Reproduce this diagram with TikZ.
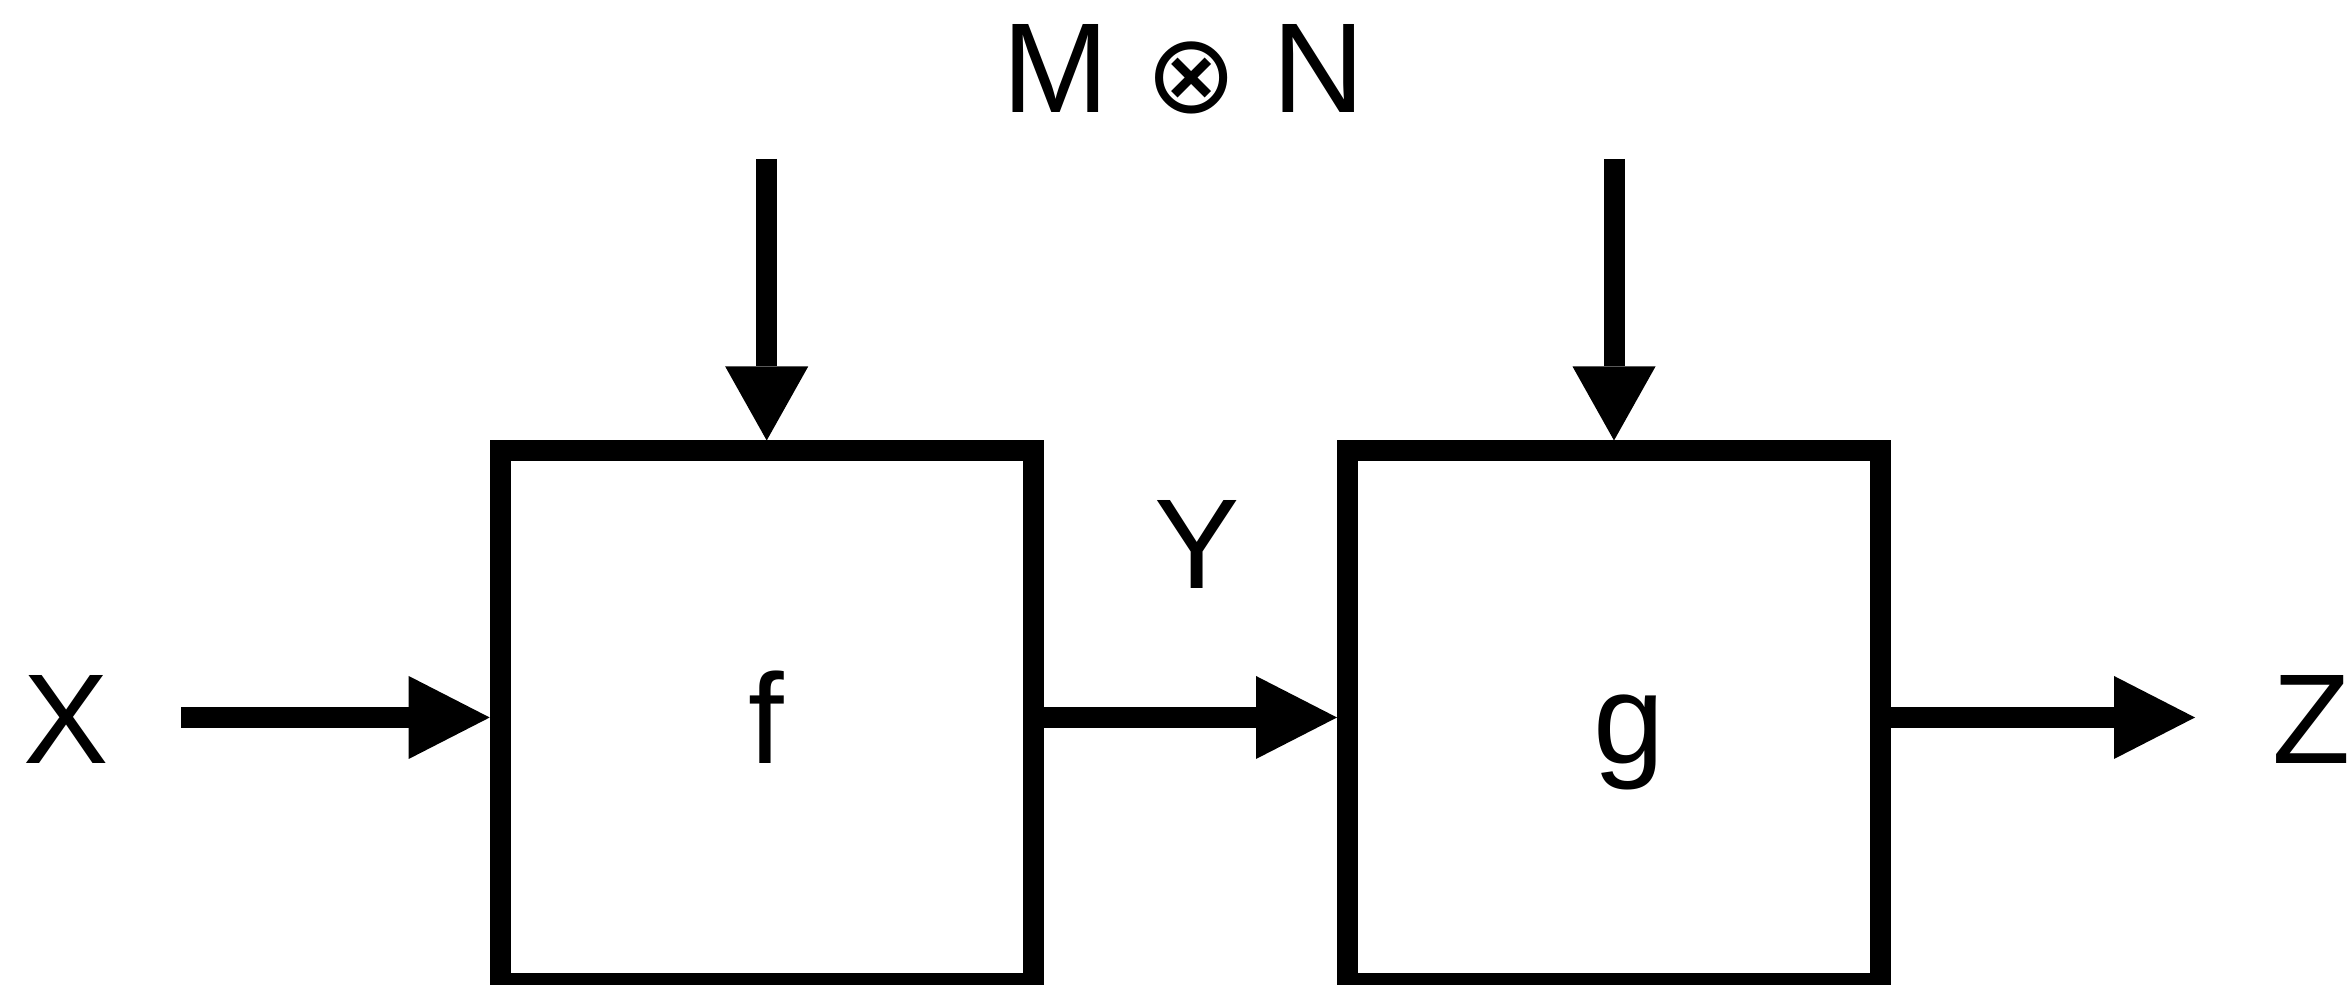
\documentclass[tikz,border=0pt]{standalone}
\usepackage{fontspec}
\setmainfont{Liberation Sans}
\newfontfamily\symfont{DejaVu Sans}
\usetikzlibrary{arrows.meta, positioning}

\begin{document}
\begin{tikzpicture}[
  >={Triangle[length=8.1mm, width=8.3mm, line width=0pt]},
  line width=2.1mm,
  block/.style={rectangle, draw, minimum size=5.33cm, inner sep=0pt, text height=9.2mm, text depth=0pt},
  lbl/.style={anchor=base, inner sep=0pt},
  down/.style={-{Triangle[length=7.4mm, width=8.3mm, line width=0pt]}},
  every node/.style={font=\fontsize{36.4}{40}\selectfont},
]
  \useasboundingbox (0,0) rectangle (23.47,9.85);

  \node[block] (f) at (7.667,2.675) {f};
  \node[block] (g) at (16.14,2.675) {\hspace*{0.3cm}g};

  \node[lbl] (x) at (0.66,2.21) {X};
  \node[lbl] (z) at (23.12,2.21) {Z};
  \node[lbl] (y) at (11.97,3.96) {Y};
  \node[lbl] (mn) at (11.84,8.72) {M \scalebox{0.86}{\symfont ⊗} N};

  \coordinate (xin) at (1.81,2.675);
  \coordinate (zout) at (21.95,2.675);
  \coordinate (fin) at (7.667,8.26);
  \coordinate (gin) at (16.14,8.26);

  \draw[->] (xin) -- (f);
  \draw[->] (f) -- (g);
  \draw[->] (g) -- (zout);
  \draw[down] (fin) -- (f);
  \draw[down] (gin) -- (g);
\end{tikzpicture}
\end{document}
